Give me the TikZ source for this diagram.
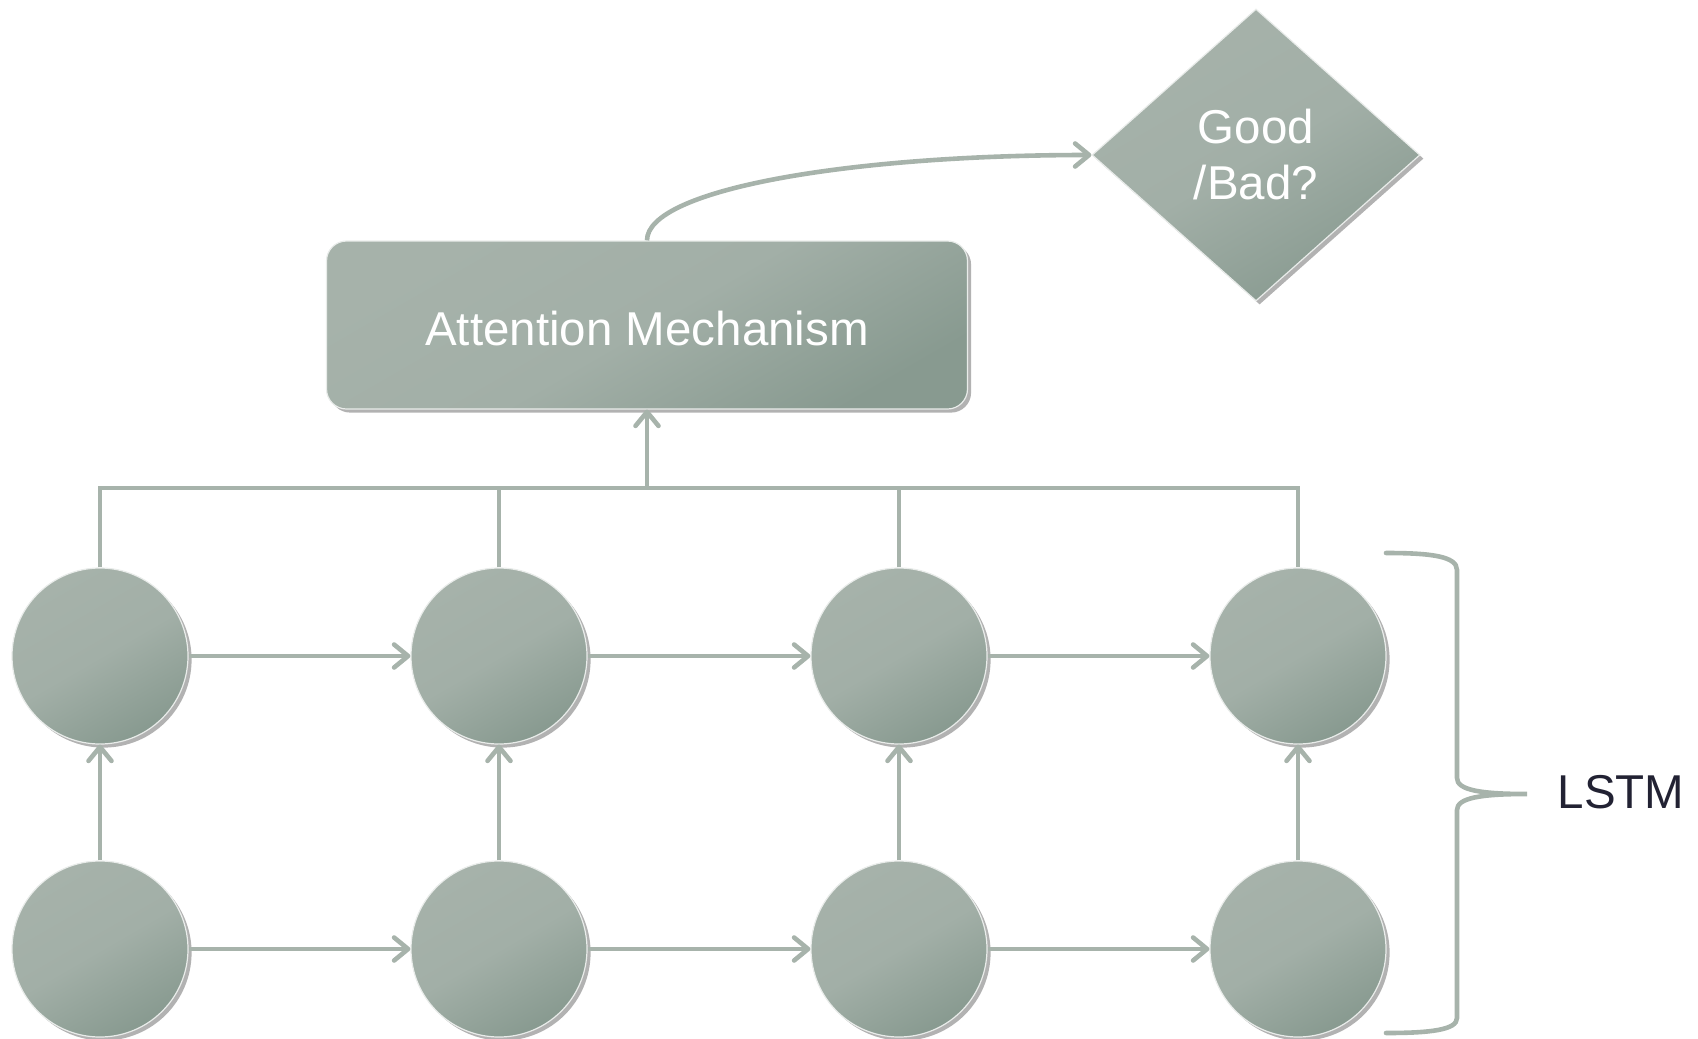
\documentclass[tikz,border=0pt]{standalone}
\usepackage{fontspec}
\setmainfont{Liberation Sans}
\usetikzlibrary{arrows.meta,shapes.geometric,shadows}
\definecolor{sage}{HTML}{A6B2AA}
\definecolor{sagedark}{HTML}{889A90}
\definecolor{sagemid}{HTML}{A2AFA7}
\definecolor{linec}{HTML}{A7B3AB}
\definecolor{txtdark}{HTML}{222233}
\tikzset{
  gfill/.style={shading=axis, top color=sage, bottom color=sagedark, middle color=sagemid, shading angle=30,
    draw=white!75!sage, line width=0.6pt,
    drop shadow={shadow xshift=1.8pt, shadow yshift=-1.8pt, opacity=0.3, fill=black}},
  cell/.style={circle, gfill, minimum size=88pt, inner sep=0pt},
  attbox/.style={rectangle, rounded corners=10pt, gfill, minimum width=320.5pt, minimum height=84pt,
    text=white, font=\fontsize{23.75pt}{28pt}\selectfont},
  dia/.style={diamond, gfill, minimum width=164pt, minimum height=146pt, inner sep=0pt, align=center,
    text=white, font=\fontsize{23.75pt}{28pt}\selectfont},
  conn/.style={draw=linec, line width=2.3pt},
  arr/.style={conn, -{Straight Barb[length=7pt, width=11.5pt, line cap=round, line join=round]}},
}
\begin{document}
\begin{tikzpicture}[x=0.5pt,y=-0.5pt]
\useasboundingbox (0,0) rectangle (1698,1039);
% cells
\node[cell] (t1) at (100,656) {};
\node[cell] (t2) at (499,656) {};
\node[cell] (t3) at (899,656) {};
\node[cell] (t4) at (1298,656) {};
\node[cell] (b1) at (100,949) {};
\node[cell] (b2) at (499,949) {};
\node[cell] (b3) at (899,949) {};
\node[cell] (b4) at (1298,949) {};
\node[attbox, text height=20.5pt, text depth=0pt] (att) at (647,325) {Attention Mechanism};
\node[dia] (gb) at (1256,155) {Good\\/Bad?};
\coordinate (bus) at (647,488);
\node[text=txtdark, font=\fontsize{23.75pt}{28pt}\selectfont, inner sep=0pt] (lstm) at (1621,792) {LSTM};
% horizontal arrows
\draw[arr] (t1) -- (t2);
\draw[arr] (t2) -- (t3);
\draw[arr] (t3) -- (t4);
\draw[arr] (b1) -- (b2);
\draw[arr] (b2) -- (b3);
\draw[arr] (b3) -- (b4);
% vertical arrows
\draw[arr] (b1) -- (t1);
\draw[arr] (b2) -- (t2);
\draw[arr] (b3) -- (t3);
\draw[arr] (b4) -- (t4);
% bus
\draw[conn] (t1.north) -- (t1.north |- bus) -- (t4.north |- bus) -- (t4.north);
\draw[conn] (t2.north) -- (t2.north |- bus);
\draw[conn] (t3.north) -- (t3.north |- bus);
\draw[arr] (bus) -- (att.south);
\draw[arr] (att.north) .. controls +(0,-51) and +(-242,0) .. (gb.west);
% brace
\draw[conn, line cap=round] (1386,553) .. controls (1430,553) and (1457,556) .. (1457,570)
  -- (1457,778) .. controls (1457,790) and (1480,794) .. (1527,794)
  .. controls (1480,794) and (1457,798) .. (1457,810)
  -- (1457,1018) .. controls (1457,1030) and (1430,1033) .. (1386,1033);
\end{tikzpicture}
\end{document}
